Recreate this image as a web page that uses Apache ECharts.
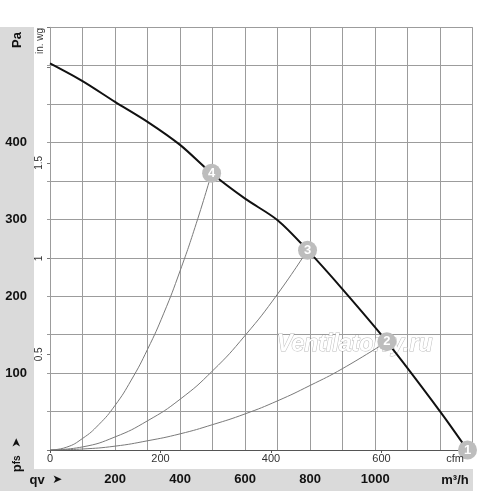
<!DOCTYPE html>
<html>
<head>
<meta charset="utf-8">
<script src="https://cdn.jsdelivr.net/npm/echarts@6/dist/echarts.min.js"></script>
<style>
html,body{margin:0;padding:0;background:#fff;}
#c{width:500px;height:491px;}
</style>
</head>
<body>
<div id="c"></div>
<script>
// ---- data (flow in m³/h, pressure in Pa) ----
const fanFlow = [0, 100, 200, 300, 400, 497, 600, 700, 792, 900, 1036, 1200, 1284];
const fanPa   = [503, 480, 453, 427, 397, 360, 327, 299, 260, 209, 141, 50, 0];

const sys4Flow = [0, 50, 100, 150, 200, 250, 300, 350, 400, 450, 497];
const sys4Pa   = [0, 3.5, 15, 33, 58, 91, 131, 178, 233, 295, 360];

const sys3Flow = [0, 100, 200, 300, 400, 500, 600, 700, 792];
const sys3Pa   = [0, 4, 17, 38, 66, 103, 149, 203, 260];

const sys2Flow = [0, 100, 200, 300, 400, 500, 600, 700, 800, 900, 1036];
const sys2Pa   = [0, 1.3, 5, 12, 21, 33, 47, 64, 84, 106, 141];

const pointFlow  = [1284, 1036, 792, 497];
const pointPa    = [0, 141, 260, 360];
const pointNames = ['1', '2', '3', '4'];

const m3hLabels  = [200, 400, 600, 800, 1000];
const paLabels   = [100, 200, 300, 400];
const cfmLabels  = [0, 200, 400, 600];
const inwgLabels = [0.5, 1, 1.5];

const X_MAX = 1300, Y_MAX = 550;
const CFM_PER_M3H = 1 / 1.69901;
const INWG_PER_PA = 1 / 249.089;

const pairs = (xs, ys) => xs.map((x, i) => [x, ys[i]]);
const FONT = 'Arial, "Liberation Sans", sans-serif';

const chart = echarts.init(document.getElementById('c'), null, {renderer: 'canvas'});
chart.setOption({
  animation: false,
  backgroundColor: 'transparent',
  grid: {left: 50, right: 27.3, top: 27.3, bottom: 41, containLabel: false},
  xAxis: [{
    type: 'value', min: 0, max: X_MAX, interval: 100, position: 'bottom',
    axisLine: {show: true, lineStyle: {color: '#555', width: 1}},
    axisTick: {show: false},
    splitLine: {show: true, lineStyle: {color: '#9c9c9c', width: 1}},
    axisLabel: {
      margin: 23, fontSize: 13, fontWeight: 'bold', color: '#111', fontFamily: FONT,
      showMinLabel: true, showMaxLabel: true,
      formatter: v => m3hLabels.includes(v) ? String(v) : ''
    }
  }, {
    type: 'value', min: 0, max: X_MAX * CFM_PER_M3H, interval: 200, position: 'bottom',
    axisLine: {show: false},
    axisTick: {show: true, length: 3, lineStyle: {color: '#555'}},
    splitLine: {show: false},
    axisLabel: {
      margin: 3, fontSize: 11, color: '#333', fontFamily: FONT,
      formatter: v => cfmLabels.includes(v) ? String(v) : ''
    }
  }],
  yAxis: [{
    type: 'value', min: 0, max: Y_MAX, interval: 50, position: 'left',
    axisLine: {show: true, lineStyle: {color: '#9c9c9c'}},
    axisTick: {show: true, length: 3, lineStyle: {color: '#9c9c9c'}},
    splitLine: {show: true, lineStyle: {color: '#9c9c9c', width: 1}},
    axisLabel: {
      margin: 23, fontSize: 13, fontWeight: 'bold', color: '#111', fontFamily: FONT,
      formatter: v => paLabels.includes(v) ? String(v) : ''
    }
  }, {
    type: 'value', min: 0, max: Y_MAX * INWG_PER_PA, interval: 0.5, position: 'left',
    axisLine: {show: false},
    axisTick: {show: true, length: 3, lineStyle: {color: '#777'}},
    splitLine: {show: false},
    axisLabel: {
      rotate: 90, margin: 6, fontSize: 10, color: '#333', fontFamily: FONT,
      formatter: v => inwgLabels.includes(v) ? String(v) : ''
    }
  }],
  series: [
    {type: 'line', data: pairs(sys4Flow, sys4Pa), smooth: true, showSymbol: false,
     lineStyle: {color: '#7a7a7a', width: 1}, z: 2},
    {type: 'line', data: pairs(sys3Flow, sys3Pa), smooth: true, showSymbol: false,
     lineStyle: {color: '#7a7a7a', width: 1}, z: 2},
    {type: 'line', data: pairs(sys2Flow, sys2Pa), smooth: true, showSymbol: false,
     lineStyle: {color: '#7a7a7a', width: 1}, z: 2},
    {type: 'line', data: pairs(fanFlow, fanPa), smooth: 0.3, showSymbol: false,
     lineStyle: {color: '#111', width: 2}, z: 3},
    {type: 'scatter', data: pointFlow.map((f, i) => [f, pointPa[i], pointNames[i]]),
     symbolSize: 19, itemStyle: {color: '#bdbdbd', opacity: 1}, z: 5,
     label: {show: true, position: 'inside', formatter: p => p.value[2],
             color: '#fff', fontWeight: 'bold', fontSize: 13, fontFamily: FONT}}
  ],
  graphic: [
    {type: 'rect', z: -10, shape: {x: 0, y: 27, width: 34, height: 464}, style: {fill: '#dadada'}},
    {type: 'rect', z: -10, shape: {x: 0, y: 469, width: 473, height: 22}, style: {fill: '#dadada'}},
    {type: 'text', z: 10, x: 17, y: 40, rotation: Math.PI / 2,
     style: {text: 'Pa', fontSize: 13, fontWeight: 'bold', fill: '#111', font: 'bold 13px ' + FONT,
             align: 'center', verticalAlign: 'middle'}},
    {type: 'text', z: 10, x: 17, y: 455, rotation: Math.PI / 2,
     style: {text: '{p|p}{s|fs}{a|  ➤}', align: 'center', verticalAlign: 'middle', fill: '#111',
             rich: {p: {fontSize: 13, fontWeight: 'bold', fontFamily: FONT, fill: '#111'},
                    s: {fontSize: 10, fontWeight: 'bold', fontFamily: FONT, fill: '#111'},
                    a: {fontSize: 12, fontFamily: 'DejaVu Sans', fill: '#111'}}}},
    {type: 'text', z: 10, x: 46, y: 480,
     style: {text: '{q|qv}{a|  ➤}', align: 'center', verticalAlign: 'middle', fill: '#111',
             rich: {q: {fontSize: 13, fontWeight: 'bold', fontFamily: FONT, fill: '#111'},
                    a: {fontSize: 12, fontFamily: 'DejaVu Sans', fill: '#111'}}}},
    {type: 'text', z: 10, x: 40.5, y: 41, rotation: Math.PI / 2,
     style: {text: 'in. wg', font: '10px ' + FONT, fill: '#333', align: 'center', verticalAlign: 'middle'}},
    {type: 'text', z: 10, x: 455, y: 459,
     style: {text: 'cfm', font: '11px ' + FONT, fill: '#333', align: 'center', verticalAlign: 'middle'}},
    {type: 'text', z: 10, x: 455, y: 480,
     style: {text: 'm³/h', font: 'bold 13px ' + FONT, fill: '#111', align: 'center', verticalAlign: 'middle'}},
    {type: 'text', z: 1, x: 277, y: 345,
     style: {text: 'Ventilatorry.ru', font: 'italic bold 23px ' + FONT, fill: '#ffffff',
             stroke: 'rgba(140,140,140,0.6)', lineWidth: 1, align: 'left', verticalAlign: 'middle'}}
  ]
});
</script>
</body>
</html>
